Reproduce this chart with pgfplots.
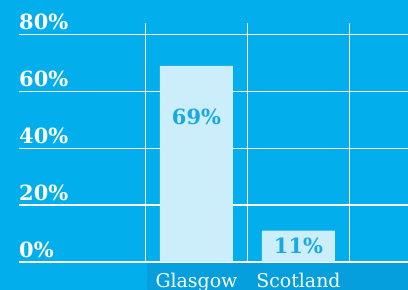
\documentclass[border=0pt]{standalone}
\usepackage{pgfplots}
\pgfplotsset{compat=1.18}
\usepackage{fontspec}
\setmainfont{DejaVu Serif}
\definecolor{bgc}{HTML}{02AEEB}
\definecolor{bandc}{HTML}{069FDD}
\definecolor{barc}{HTML}{CCEDFA}
\definecolor{valc}{HTML}{18A9E3}
\begin{document}
\begin{tikzpicture}
\path[use as bounding box] (0,0) rectangle (408bp,290bp);
\fill[bgc] (0,0) rectangle (408bp,290bp);
\fill[bandc] (147bp,0) rectangle (408bp,28bp);
\begin{axis}[
  at={(19bp,28bp)}, anchor=south west,
  scale only axis, width=389bp, height=239bp,
  xmin=-0.74, xmax=3.074, ymin=0, ymax=84.06,
  clip=false,
  axis line style={draw=none},
  major tick length=0pt,
  xtick={1,2}, xticklabels={Glasgow,Scotland},
  extra x ticks={0.5,1.5,2.5}, extra x tick labels={},
  extra x tick style={grid=major},
  ytick={0,20,40,60,80}, yticklabels={0\%,20\%,40\%,60\%,80\%},
  ymajorgrids,
  grid style={white, line width=1.4bp},
  yticklabel style={anchor=south west, inner sep=0pt, xshift=0bp, yshift=4.5bp, text=white, font=\fontsize{21}{21}\selectfont\bfseries},
  xticklabel style={anchor=base, inner sep=0pt, yshift=-25bp, text=white, font=\fontsize{19}{19}\selectfont},
  ybar, bar width=73bp, bar shift=0pt,
]
\addplot[fill=barc, draw=none] coordinates {(1,69) (2,11)};
\node[text=valc, font=\fontsize{21}{21}\selectfont\bfseries] at (axis cs:1,51) {69\%};
\node[text=valc, font=\fontsize{21}{21}\selectfont\bfseries] at (axis cs:2,5.6) {11\%};
\end{axis}
\end{tikzpicture}
\end{document}
